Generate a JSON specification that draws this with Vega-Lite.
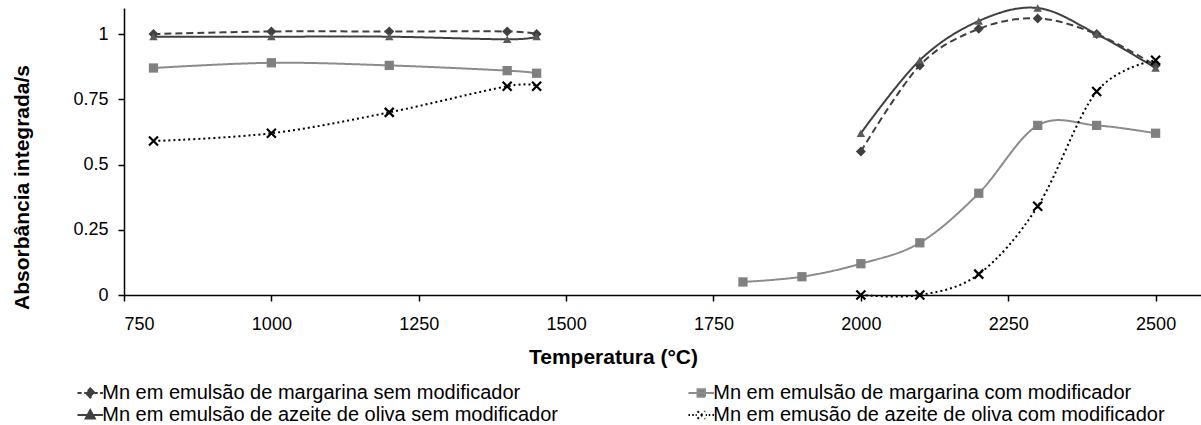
{
  "$schema": "https://vega.github.io/schema/vega-lite/v6.json",
  "autosize": {"type": "none"},
  "width": 1077,
  "height": 287,
  "padding": {"left": 124, "top": 8, "right": 0, "bottom": 130},
  "background": "white",
  "config": {
    "view": {"stroke": null},
    "font": "Liberation Sans",
    "axis": {
      "domainColor": "#000000",
      "domainWidth": 1.5,
      "tickColor": "#000000",
      "tickWidth": 1.5,
      "tickSize": 6,
      "grid": false,
      "labelFont": "Liberation Sans",
      "labelFontSize": 18,
      "labelColor": "#000000",
      "titleFont": "Liberation Sans",
      "titleFontSize": 21,
      "titleFontWeight": "bold",
      "titleColor": "#000000"
    }
  },
  "data": {
    "values": [
      {"serie": "Mn em emulsão de margarina sem modificador", "seg": "a", "t": 800, "v": 1.0},
      {"serie": "Mn em emulsão de margarina sem modificador", "seg": "a", "t": 1000, "v": 1.01},
      {"serie": "Mn em emulsão de margarina sem modificador", "seg": "a", "t": 1200, "v": 1.01},
      {"serie": "Mn em emulsão de margarina sem modificador", "seg": "a", "t": 1400, "v": 1.01},
      {"serie": "Mn em emulsão de margarina sem modificador", "seg": "a", "t": 1450, "v": 1.0},
      {"serie": "Mn em emulsão de margarina sem modificador", "seg": "b", "t": 2000, "v": 0.55},
      {"serie": "Mn em emulsão de margarina sem modificador", "seg": "b", "t": 2100, "v": 0.88},
      {"serie": "Mn em emulsão de margarina sem modificador", "seg": "b", "t": 2200, "v": 1.02},
      {"serie": "Mn em emulsão de margarina sem modificador", "seg": "b", "t": 2300, "v": 1.06},
      {"serie": "Mn em emulsão de margarina sem modificador", "seg": "b", "t": 2400, "v": 1.0},
      {"serie": "Mn em emulsão de margarina sem modificador", "seg": "b", "t": 2500, "v": 0.88},
      {"serie": "Mn em emulsão de margarina com modificador", "seg": "a", "t": 800, "v": 0.87},
      {"serie": "Mn em emulsão de margarina com modificador", "seg": "a", "t": 1000, "v": 0.89},
      {"serie": "Mn em emulsão de margarina com modificador", "seg": "a", "t": 1200, "v": 0.88},
      {"serie": "Mn em emulsão de margarina com modificador", "seg": "a", "t": 1400, "v": 0.86},
      {"serie": "Mn em emulsão de margarina com modificador", "seg": "a", "t": 1450, "v": 0.85},
      {"serie": "Mn em emulsão de margarina com modificador", "seg": "b", "t": 1800, "v": 0.05},
      {"serie": "Mn em emulsão de margarina com modificador", "seg": "b", "t": 1900, "v": 0.07},
      {"serie": "Mn em emulsão de margarina com modificador", "seg": "b", "t": 2000, "v": 0.12},
      {"serie": "Mn em emulsão de margarina com modificador", "seg": "b", "t": 2100, "v": 0.2},
      {"serie": "Mn em emulsão de margarina com modificador", "seg": "b", "t": 2200, "v": 0.39},
      {"serie": "Mn em emulsão de margarina com modificador", "seg": "b", "t": 2300, "v": 0.65},
      {"serie": "Mn em emulsão de margarina com modificador", "seg": "b", "t": 2400, "v": 0.65},
      {"serie": "Mn em emulsão de margarina com modificador", "seg": "b", "t": 2500, "v": 0.62},
      {"serie": "Mn em emulsão de azeite de oliva sem modificador", "seg": "a", "t": 800, "v": 0.99},
      {"serie": "Mn em emulsão de azeite de oliva sem modificador", "seg": "a", "t": 1000, "v": 0.99},
      {"serie": "Mn em emulsão de azeite de oliva sem modificador", "seg": "a", "t": 1200, "v": 0.99},
      {"serie": "Mn em emulsão de azeite de oliva sem modificador", "seg": "a", "t": 1400, "v": 0.98},
      {"serie": "Mn em emulsão de azeite de oliva sem modificador", "seg": "a", "t": 1450, "v": 0.99},
      {"serie": "Mn em emulsão de azeite de oliva sem modificador", "seg": "b", "t": 2000, "v": 0.62},
      {"serie": "Mn em emulsão de azeite de oliva sem modificador", "seg": "b", "t": 2100, "v": 0.9},
      {"serie": "Mn em emulsão de azeite de oliva sem modificador", "seg": "b", "t": 2200, "v": 1.05},
      {"serie": "Mn em emulsão de azeite de oliva sem modificador", "seg": "b", "t": 2300, "v": 1.1},
      {"serie": "Mn em emulsão de azeite de oliva sem modificador", "seg": "b", "t": 2400, "v": 1.0},
      {"serie": "Mn em emulsão de azeite de oliva sem modificador", "seg": "b", "t": 2500, "v": 0.87},
      {"serie": "Mn em emusão de azeite de oliva com modificador", "seg": "a", "t": 800, "v": 0.59},
      {"serie": "Mn em emusão de azeite de oliva com modificador", "seg": "a", "t": 1000, "v": 0.62},
      {"serie": "Mn em emusão de azeite de oliva com modificador", "seg": "a", "t": 1200, "v": 0.7},
      {"serie": "Mn em emusão de azeite de oliva com modificador", "seg": "a", "t": 1400, "v": 0.8},
      {"serie": "Mn em emusão de azeite de oliva com modificador", "seg": "a", "t": 1450, "v": 0.8},
      {"serie": "Mn em emusão de azeite de oliva com modificador", "seg": "b", "t": 2000, "v": 0.0},
      {"serie": "Mn em emusão de azeite de oliva com modificador", "seg": "b", "t": 2100, "v": 0.0},
      {"serie": "Mn em emusão de azeite de oliva com modificador", "seg": "b", "t": 2200, "v": 0.08},
      {"serie": "Mn em emusão de azeite de oliva com modificador", "seg": "b", "t": 2300, "v": 0.34},
      {"serie": "Mn em emusão de azeite de oliva com modificador", "seg": "b", "t": 2400, "v": 0.78},
      {"serie": "Mn em emusão de azeite de oliva com modificador", "seg": "b", "t": 2500, "v": 0.9}
    ]
  },
  "encoding": {
    "x": {
      "field": "t",
      "type": "quantitative",
      "scale": {"domain": [750, 2577], "nice": false, "zero": false},
      "axis": {
        "title": "Temperatura (°C)",
        "values": [750, 1000, 1250, 1500, 1750, 2000, 2250, 2500],
        "format": "d",
        "labelPadding": 14,
        "titleX": 489,
        "titleY": 68,
        "titleBaseline": "alphabetic",
        "titleAnchor": null
      }
    },
    "y": {
      "field": "v",
      "type": "quantitative",
      "scale": {"domain": [0, 1.1], "nice": false},
      "axis": {
        "title": "Absorbância integrada/s",
        "values": [0, 0.25, 0.5, 0.75, 1],
        "format": ".2~f",
        "labelPadding": 10,
        "titleX": -96,
        "titleY": 179,
        "titleBaseline": "alphabetic",
        "titleAnchor": null
      }
    }
  },
  "layer": [
    {
      "mark": {"type": "line", "interpolate": "cardinal", "strokeWidth": 2, "strokeCap": "butt"},
      "encoding": {
        "detail": {"field": "seg"},
        "color": {
          "field": "serie",
          "type": "nominal",
          "scale": {
            "domain": ["Mn em emulsão de margarina sem modificador", "Mn em emulsão de azeite de oliva sem modificador", "Mn em emulsão de margarina com modificador", "Mn em emusão de azeite de oliva com modificador"],
            "range": ["#404040", "#404040", "#8c8c8c", "#000000"]
          },
          "legend": {
            "title": null,
            "orient": "none",
            "legendX": -43.75,
            "legendY": 375,
            "columns": 2,
            "columnPadding": 126,
            "rowPadding": 2,
            "padding": 0,
            "symbolSize": 225,
            "labelOffset": 2,
            "labelFont": "Liberation Sans",
            "labelFontSize": 20,
            "labelColor": "#000000",
            "labelLimit": 0,
            "encode": {
              "symbols": {
                "update": {
                  "shape": {"signal": "['M-1.7,0H-1.15M-0.8,0H1M1.3,0H1.7M0,-0.6L0.6,0L0,0.6L-0.6,0Z', 'M-1.7,0H1.7M0,-0.65L0.6,0.45L-0.6,0.45Z', 'M-1.7,0H1.7M-0.5,-0.5H0.5V0.5H-0.5Z', 'M-1.7,0H-1.5M-1.2,0H-1M-0.75,0H-0.6M0.6,0H0.75M1,0H1.2M1.5,0H1.7M-0.5,-0.5L0.5,0.5M-0.5,0.5L0.5,-0.5'][datum.index]"},
                  "fill": {"signal": "['#404040', '#404040', '#808080', 'transparent'][datum.index]"},
                  "stroke": {"signal": "['#404040', '#404040', '#8c8c8c', '#000000'][datum.index]"},
                  "strokeWidth": {"value": 2},
                  "strokeDash": {"value": []},
                  "opacity": {"value": 1}
                }
              }
            }
          }
        },
        "strokeDash": {
          "field": "serie",
          "type": "nominal",
          "scale": {
            "domain": ["Mn em emulsão de margarina sem modificador", "Mn em emulsão de azeite de oliva sem modificador", "Mn em emulsão de margarina com modificador", "Mn em emusão de azeite de oliva com modificador"],
            "range": [[7, 4], [1, 0], [1, 0], [2, 3]]
          },
          "legend": null
        }
      }
    },
    {
      "transform": [{"filter": "datum.serie !== 'Mn em emusão de azeite de oliva com modificador'"}],
      "mark": {"type": "point", "filled": true, "opacity": 1},
      "encoding": {
        "shape": {
          "field": "serie",
          "type": "nominal",
          "scale": {
            "domain": ["Mn em emulsão de margarina sem modificador", "Mn em emulsão de margarina com modificador", "Mn em emulsão de azeite de oliva sem modificador"],
            "range": ["diamond", "square", "triangle-up"]
          },
          "legend": null
        },
        "size": {
          "field": "serie",
          "type": "nominal",
          "scale": {
            "domain": ["Mn em emulsão de margarina sem modificador", "Mn em emulsão de margarina com modificador", "Mn em emulsão de azeite de oliva sem modificador"],
            "range": [100, 72, 110]
          },
          "legend": null
        },
        "fill": {
          "field": "serie",
          "type": "nominal",
          "scale": {
            "domain": ["Mn em emulsão de margarina sem modificador", "Mn em emulsão de margarina com modificador", "Mn em emulsão de azeite de oliva sem modificador"],
            "range": ["#404040", "#808080", "#5a5a5a"]
          },
          "legend": null
        }
      }
    },
    {
      "transform": [{"filter": "datum.serie === 'Mn em emusão de azeite de oliva com modificador'"}],
      "mark": {"type": "point", "filled": false, "shape": "M-1,-1L1,1M-1,1L1,-1", "size": 81, "stroke": "#000000", "strokeWidth": 2.2, "opacity": 1},
      "encoding": {}
    }
  ]
}
